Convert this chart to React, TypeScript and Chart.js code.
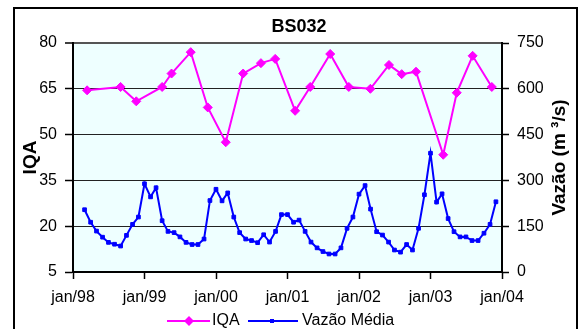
import React, { useEffect, useRef } from 'react';
import { Chart, registerables } from 'chart.js';

Chart.register(...registerables);

const chartTitle = 'BS032';
const leftAxisTitle = 'IQA';
const rightAxisTitle = 'Vazão (m ³/s)';
const iqaLabel = 'IQA';
const flowLabel = 'Vazão Média';

const xMinYear = 1998;
const xMaxYear = 2004;
const iqaMin = 5;
const iqaMax = 80;
const iqaStep = 15;
const flowMin = 0;
const flowMax = 750;
const flowStep = 150;

// IQA sampling dates and values
const iqaDates = [
  '1998-03-14', '1998-09-01', '1998-11-20', '1999-04-01', '1999-05-19', '1999-08-25',
  '1999-11-20', '2000-02-20', '2000-05-19', '2000-08-18', '2000-10-30', '2001-02-09',
  '2001-04-27', '2001-08-07', '2001-11-10', '2002-02-28', '2002-06-03', '2002-08-07',
  '2002-10-19', '2003-03-07', '2003-05-15', '2003-08-04', '2003-11-10',
];
const iqaValues = [
  64.5, 65.6, 60.9, 65.6, 70, 77,
  58.9, 47.5, 70, 73.4, 74.8, 57.8,
  65.6, 76.4, 65.6, 65, 72.8, 69.8,
  70.6, 43.4, 63.7, 75.8, 65.6,
];

// Monthly mean flow, first month March 1998
const flowStartYear = 1998;
const flowStartMonth = 3;
const flow1998 = [204, 163, 134, 114, 97, 91, 85, 120, 156, 180];
const flow1999 = [289, 246, 276, 168, 133, 129, 115, 97, 90, 90, 108, 234];
const flow2000 = [271, 233, 259, 180, 129, 108, 103, 96, 122, 98, 133, 188];
const flow2001 = [188, 163, 170, 133, 98, 79, 67, 59, 59, 79, 143, 180];
const flow2002 = [255, 283, 206, 132, 121, 98, 72, 65, 90, 72, 143, 253];
const flow2003 = [389, 229, 256, 175, 132, 115, 115, 103, 103, 127, 156, 230];
const flowValues = [...flow1998, ...flow1999, ...flow2000, ...flow2001, ...flow2002, ...flow2003];

const FONT = "'Liberation Sans', Arial, sans-serif";

function toYear(y: number, m: number, d: number): number {
  const t = Date.UTC(y, m - 1, d);
  const s = Date.UTC(y, 0, 1);
  const e = Date.UTC(y + 1, 0, 1);
  return y + (t - s) / (e - s);
}
function dateToYear(str: string): number {
  const [y, m, d] = str.split('-').map(Number);
  return toYear(y, m, d);
}

const iqaData = iqaDates.map((d, i) => ({ x: dateToYear(d), y: iqaValues[i] }));
const flowData = flowValues.map((v, i) => {
  const idx = flowStartMonth - 1 + i;
  const y = flowStartYear + Math.floor(idx / 12);
  const m = (idx % 12) + 1;
  return { x: toYear(y, m, 1), y: v };
});

const MAGENTA = '#FF00FF';
const BLUE = '#0000FF';

function drawDiamond(ctx: CanvasRenderingContext2D, x: number, y: number, r: number) {
  ctx.beginPath();
  ctx.moveTo(x - r, y);
  ctx.lineTo(x, y - r);
  ctx.lineTo(x + r, y);
  ctx.lineTo(x, y + r);
  ctx.closePath();
  ctx.fill();
}

const decorPlugin = {
  id: 'decor',
  beforeDraw(chart: any) {
    const { ctx, chartArea: a } = chart;
    ctx.save();
    ctx.fillStyle = '#FFFFFF';
    ctx.fillRect(0, 0, chart.width, chart.height);
    ctx.fillStyle = '#EEFFFF';
    ctx.fillRect(a.left, a.top, a.right - a.left, a.bottom - a.top);
    ctx.strokeStyle = '#000';
    ctx.lineWidth = 2;
    ctx.strokeRect(14, 8, 563, 360);
    ctx.restore();
  },
  afterDraw(chart: any) {
    const { ctx, chartArea: a } = chart;
    ctx.save();
    ctx.fillStyle = '#000';
    // Title
    ctx.font = `bold 18px ${FONT}`;
    ctx.textAlign = 'center';
    ctx.textBaseline = 'middle';
    ctx.fillText(chartTitle, 299, 27);
    // Left axis title
    ctx.save();
    ctx.translate(31, (a.top + a.bottom) / 2);
    ctx.rotate(-Math.PI / 2);
    ctx.font = `bold 19px ${FONT}`;
    ctx.fillText(leftAxisTitle, 0, 0);
    ctx.restore();
    // Right axis title
    ctx.save();
    ctx.translate(560, (a.top + a.bottom) / 2);
    ctx.rotate(-Math.PI / 2);
    ctx.font = `bold 19px ${FONT}`;
    ctx.fillText(rightAxisTitle, 0, 0);
    ctx.restore();
    // Legend
    const ly = 321;
    ctx.font = `16px ${FONT}`;
    ctx.textAlign = 'left';
    ctx.textBaseline = 'middle';
    ctx.lineWidth = 2;
    ctx.strokeStyle = MAGENTA;
    ctx.fillStyle = MAGENTA;
    ctx.beginPath();
    ctx.moveTo(167, ly);
    ctx.lineTo(210, ly);
    ctx.stroke();
    drawDiamond(ctx, 189, ly, 5);
    ctx.fillStyle = '#000';
    ctx.fillText(chart.data.datasets[0].label, 212, ly);
    ctx.strokeStyle = BLUE;
    ctx.fillStyle = BLUE;
    ctx.beginPath();
    ctx.moveTo(248, ly);
    ctx.lineTo(298, ly);
    ctx.stroke();
    ctx.fillRect(270, ly - 2, 4, 4);
    ctx.fillStyle = '#000';
    ctx.fillText(chart.data.datasets[1].label, 302, ly);
    ctx.restore();
  },
};

export default function App() {
  const ref = useRef<HTMLCanvasElement | null>(null);
  useEffect(() => {
    if (!ref.current) return;
    const tickFont = { family: FONT, size: 16 };
    const chart = new Chart(ref.current, {
      type: 'line',
      data: {
        datasets: [
          {
            label: iqaLabel,
            data: iqaData,
            yAxisID: 'y',
            borderColor: MAGENTA,
            backgroundColor: MAGENTA,
            pointBackgroundColor: MAGENTA,
            pointBorderColor: MAGENTA,
            pointStyle: 'rectRot',
            pointRadius: 4.5,
            pointBorderWidth: 1,
            borderWidth: 2,
            tension: 0,
          },
          {
            label: flowLabel,
            data: flowData,
            yAxisID: 'y1',
            borderColor: BLUE,
            backgroundColor: BLUE,
            pointBackgroundColor: BLUE,
            pointBorderColor: BLUE,
            pointStyle: 'rect',
            pointRadius: 2.6,
            pointBorderWidth: 1,
            borderWidth: 2,
            tension: 0,
          },
        ],
      },
      options: {
        responsive: false,
        maintainAspectRatio: false,
        animation: false,
        devicePixelRatio: 1,
        layout: { padding: { left: 0, right: 0, top: 43, bottom: 0 } },
        plugins: {
          legend: { display: false },
          title: { display: false },
          tooltip: { enabled: false },
        },
        scales: {
          x: {
            type: 'linear',
            min: xMinYear,
            max: xMaxYear,
            ticks: {
              stepSize: 1,
              autoSkip: false,
              maxRotation: 0,
              color: '#000',
              font: tickFont,
              padding: 9,
              callback: (v: any) => 'jan/' + String(v).slice(2),
            },
            grid: { drawOnChartArea: false, tickLength: 7, tickColor: '#000', tickWidth: 1.5 },
            border: { color: '#000', width: 2 },
            afterFit: (s: any) => { s.height = 57; },
          },
          y: {
            position: 'left',
            min: iqaMin,
            max: iqaMax,
            ticks: { stepSize: iqaStep, color: '#000', font: tickFont, padding: 8 },
            grid: {
              color: (c: any) => (c.tick && c.tick.value === iqaMax ? '#555' : '#222'),
              lineWidth: (c: any) => (c.tick && c.tick.value === iqaMax ? 2 : 1),
              tickLength: 8,
              tickColor: '#000',
              tickWidth: 1.5,
            },
            border: { color: '#000', width: 2 },
            afterFit: (s: any) => { s.width = 73; },
          },
          y1: {
            position: 'right',
            min: flowMin,
            max: flowMax,
            ticks: { stepSize: flowStep, color: '#000', font: tickFont, padding: 8 },
            grid: { drawOnChartArea: false, tickLength: 7, tickColor: '#000', tickWidth: 1.5 },
            border: { color: '#000', width: 2 },
            afterFit: (s: any) => { s.width = 77; },
          },
        },
      },
      plugins: [decorPlugin],
    } as any);
    return () => chart.destroy();
  }, []);
  return (
    <div style={{ position: 'absolute', left: 0, top: 0, width: 579, height: 329 }}>
      <canvas ref={ref} width={579} height={329} style={{ display: 'block' }} />
    </div>
  );
}
